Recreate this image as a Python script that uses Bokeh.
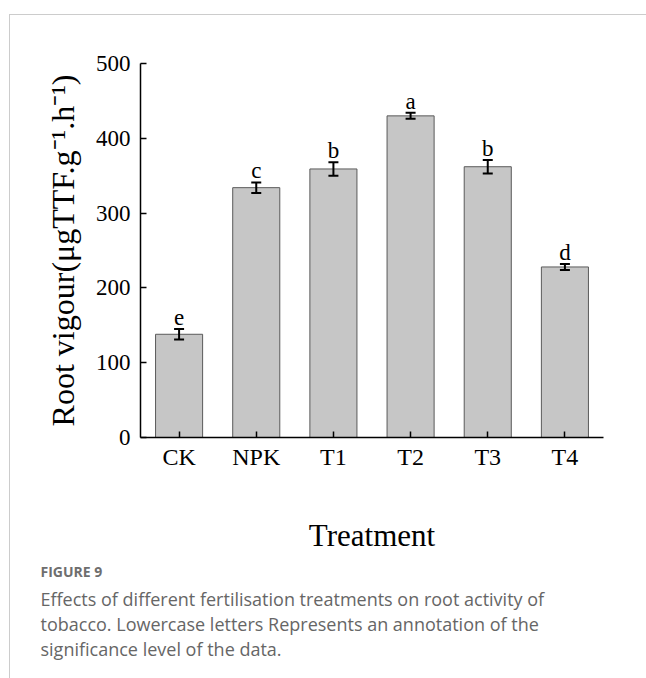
from bokeh.plotting import figure
from bokeh.models import (ColumnDataSource, FactorRange, Range1d, Whisker, TeeHead,
                          LabelSet, FixedTicker, Title)
from bokeh.embed import file_html
from bokeh.resources import INLINE

# ---- data ----
treatments = ["CK", "NPK", "T1", "T2", "T3", "T4"]
root_vigour = [138, 334, 359, 430, 362, 228]
errors = [7, 7, 9, 4, 9, 4]
sig_letters = ["e", "c", "b", "a", "b", "d"]
y_ticks = [0, 100, 200, 300, 400, 500]

upper = [v + e for v, e in zip(root_vigour, errors)]
lower = [v - e for v, e in zip(root_vigour, errors)]
src = ColumnDataSource(dict(x=treatments, top=root_vigour, upper=upper,
                            lower=lower, letter=sig_letters))

SERIF = "Liberation Serif"

p = figure(width=646, height=678, x_range=FactorRange(*treatments, range_padding=0),
           y_range=Range1d(0, 500), output_backend="svg", toolbar_location=None,
           min_border_left=140, min_border_right=43, min_border_top=63,
           min_border_bottom=241)
p.outline_line_color = None
p.xgrid.grid_line_color = None
p.ygrid.grid_line_color = None
p.background_fill_color = "white"
p.border_fill_alpha = 0
# light panel border (top and left edges) drawn behind the transparent canvas
p.styles = {
    "background-color": "white",
    "background-image": "linear-gradient(#cccccc, #cccccc), linear-gradient(#cccccc, #cccccc)",
    "background-position": "9px 14px, 9px 14px",
    "background-size": "100% 1px, 1px 100%",
    "background-repeat": "no-repeat, no-repeat",
}

p.vbar(x="x", top="top", width=0.61, source=src, fill_color="#c6c6c6",
       line_color="#5a5a5a", line_width=1)

head_u = TeeHead(size=10, line_width=2, line_color="black")
head_l = TeeHead(size=10, line_width=2, line_color="black")
p.add_layout(Whisker(base="x", upper="upper", lower="lower", source=src,
                     line_color="black", line_width=2, level="overlay",
                     upper_head=head_u, lower_head=head_l))

p.add_layout(LabelSet(x="x", y="upper", text="letter", source=src,
                      text_align="center", text_baseline="alphabetic", y_offset=4,
                      text_font=SERIF, text_font_size="23px", text_color="black"))

# axes
for ax in (p.xaxis[0], p.yaxis[0]):
    ax.axis_line_color = "black"
    ax.axis_line_width = 1.5
    ax.major_tick_line_color = "black"
    ax.major_tick_line_width = 1.5
    ax.major_tick_in = 6
    ax.major_tick_out = 0
    ax.minor_tick_line_color = None
    ax.major_label_text_font = SERIF
    ax.axis_label_text_font = SERIF
    ax.axis_label_text_font_style = "normal"
    ax.major_label_text_color = "black"
    ax.axis_label_text_color = "black"

p.yaxis.ticker = FixedTicker(ticks=y_ticks)
p.yaxis.major_label_text_font_size = "23px"
p.yaxis.major_label_standoff = 10
p.yaxis.axis_label = "Root vigour(\u03bcgTTF.g\u207b\u00b9.h\u207b\u00b9)"
p.yaxis.axis_label_text_font_size = "32px"
p.yaxis.axis_label_standoff = 12

p.xaxis.major_label_text_font_size = "24px"
p.xaxis.major_label_standoff = 6
p.xaxis.axis_label = "Treatment"
p.xaxis.axis_label_text_font_size = "31px"
p.xaxis.axis_label_standoff = 45

# caption, stacked below the x axis
cap_color = "#666666"
p.add_layout(Title(text="FIGURE 9", align="left", offset=-100, standoff=9,
                   text_font="Open Sans", text_font_size="14px",
                   text_font_style="bold", text_color="#6e6e6e"), "below")
caption_lines = ["Effects of different fertilisation treatments on root activity of",
                 "tobacco. Lowercase letters Represents an annotation of the",
                 "significance level of the data."]
for line in caption_lines:
    p.add_layout(Title(text=line, align="left", offset=-100, standoff=-1,
                       text_font="Open Sans", text_font_size="18px",
                       text_font_style="normal", text_color=cap_color), "below")

open("out.html", "w").write(file_html(p, INLINE))
